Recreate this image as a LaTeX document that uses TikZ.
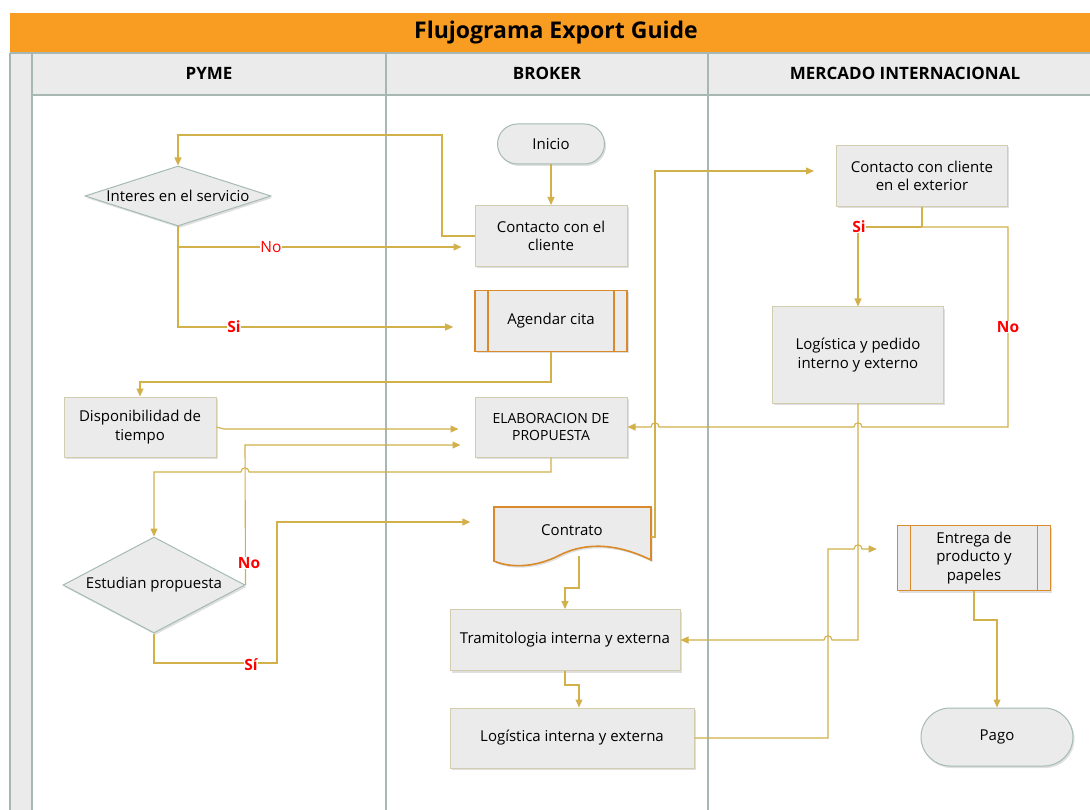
\documentclass[tikz,border=0pt]{standalone}
\usepackage{fontspec}
\setmainfont{Open Sans}
\usetikzlibrary{shapes.geometric,arrows.meta,shadows,calc}
\definecolor{ttl}{HTML}{F89C22}
\definecolor{hdr}{HTML}{EBEBEB}
\definecolor{lane}{HTML}{A7B8B2}
\definecolor{nfill}{HTML}{EBEBEB}
\definecolor{nline}{HTML}{D4CCAE}
\definecolor{tline}{HTML}{A5BBB3}
\definecolor{oline}{HTML}{D98A2B}
\definecolor{gold}{HTML}{D2B04A}
\tikzset{
  txt/.style={font=\fontsize{15}{18.5}\selectfont, align=center},
  shd/.style={drop shadow={opacity=0.25, shadow xshift=1.5pt, shadow yshift=-2pt}},
  procbox/.style={txt, draw=nline, line width=1pt, fill=nfill, shd},
  termbox/.style={txt, draw=tline, line width=1pt, fill=nfill, shd},
  decbox/.style={diamond, draw=tline, line width=1pt, fill=nfill, shd, inner sep=0pt},
  subbox/.style={txt, draw=oline, line width=1.6pt, fill=nfill, shd,
    path picture={\draw[oline, line width=1.6pt]
      ([xshift=13pt]path picture bounding box.north west) -- ([xshift=13pt]path picture bounding box.south west)
      ([xshift=-13pt]path picture bounding box.north east) -- ([xshift=-13pt]path picture bounding box.south east);}},
  conn/.style={draw=gold, line width=1.1pt, -{Triangle[length=8pt,width=7pt]}},
  plain/.style={draw=gold, line width=1.1pt},
  lbl/.style={text=red, fill=white, inner sep=0.5pt, font=\fontsize{15.5}{17}\selectfont},
  blbl/.style={lbl, font=\fontsize{15.5}{17}\selectfont\bfseries},
  hdrtxt/.style={font=\fontsize{17}{19}\selectfont\bfseries},
}
\begin{document}
\begin{tikzpicture}[x=1pt,y=-1pt]
\useasboundingbox (0,0) rectangle (1090,810);
\fill[white] (0,0) rectangle (1090,810);
% title bar
\fill[ttl] (10,13) rectangle (1090,53);
\node[font=\fontsize{23}{26}\selectfont\bfseries] (title) at (556,33) {Flujograma Export Guide};
% header and lanes
\fill[hdr] (10,53) rectangle (1090,95);
\fill[hdr] (10,53) rectangle (32,810);
\draw[lane, line width=1.2pt] (10,53) -- (1090,53);
\draw[lane, line width=1.2pt] (32,95) -- (1090,95);
\draw[lane, line width=1.2pt] (10,53) -- (10,810);
\draw[lane, line width=1.2pt] (32,53) -- (32,810);
\draw[lane, line width=1.2pt] (386,53) -- (386,810);
\draw[lane, line width=1.2pt] (708,53) -- (708,810);
\node[hdrtxt] (h1) at (209,73) {PYME};
\node[hdrtxt] (h2) at (547,73) {BROKER};
\node[hdrtxt] (h3) at (905,73) {MERCADO INTERNACIONAL};

% nodes
\node[termbox, rounded corners=20pt, minimum width=107pt, minimum height=40pt] (inicio) at (551,144) {Inicio};
\node[procbox, minimum width=152pt, minimum height=61pt, font=\fontsize{15}{17.5}\selectfont] (contacto) at (551,236) {Contacto con el\\cliente};
\node[subbox, minimum width=152pt, minimum height=61pt] (agendar) at (551,321) {Agendar cita};
\node[decbox, minimum width=186pt, minimum height=60pt] (interes) at (178,196) {};
\node[txt] (interesT) at (178,196) {Interes en el servicio};
\node[procbox, minimum width=152pt, minimum height=60pt] (dispo) at (140,427) {Disponibilidad de\\tiempo};
\node[procbox, minimum width=152pt, minimum height=60pt, font=\fontsize{14}{17.5}\selectfont] (elab) at (551,427) {ELABORACION DE\\PROPUESTA};
\node[decbox, minimum width=182pt, minimum height=96pt] (estudian) at (154,585) {};
\node[txt] (estudianT) at (154,585) {Estudian propuesta};
% Contrato document shape
\path[fill=nfill, draw=oline, line width=1.6pt, shd] (494,507) -- (651,507) -- (651,560)
  .. controls (610,540) and (580,545) .. (560,555) .. controls (535,568) and (510,568) .. (494,561) -- cycle;
\node[txt, minimum width=157pt, minimum height=54pt] (contrato) at (572,534) {};
\node[txt] (contratoT) at (572,530) {Contrato};
\node[procbox, minimum width=230pt, minimum height=61pt] (tram) at (565,640) {Tramitologia interna y externa};
\node[procbox, minimum width=244pt, minimum height=60pt] (linterna) at (572,738) {Logística interna y externa};
\node[procbox, minimum width=171pt, minimum height=61pt] (cext) at (922,176) {Contacto con cliente\\en el exterior};
\node[procbox, minimum width=171pt, minimum height=96pt] (lped) at (858,355) {Logística y pedido\\interno y externo};
\node[subbox, minimum width=153pt, minimum height=65pt] (entrega) at (974,558) {Entrega de\\producto y\\papeles};
\node[termbox, rounded corners=29pt, minimum width=152pt, minimum height=58pt] (pago) at (997,737) {Pago};

% connectors
\draw[conn] (inicio.south) -- (contacto.north);
\draw[conn] (contacto.west) -| (442,135) -| (interes.north);
\draw[conn, shorten >=13pt] (interes.south) |- (contacto.west |- 0,247);
\draw[conn, shorten >=21pt] (178,247) |- (agendar.west |- 0,327);
\node[lbl] (lNo1) at (271,247) {No};
\node[blbl] (lSi1) at (234,327) {Si};
\draw[conn] (agendar.south) |- (140,382) -- (dispo.north);
\draw[conn, shorten >=16pt] (dispo.east) -- (224,429) -- (elab.west |- 0,429);
\draw[conn] (elab.south) -- (551,472) -- (249,472) .. controls (249,466.5) and (241,466.5) .. (241,472) -- (154,472) -- (estudian.north);
\draw[conn, shorten >=14pt] (estudian.east) -- (245,445) -- (elab.west |- 0,445);
\node[blbl] (lNo2) at (249,563) {No};
\draw[conn, shorten >=23pt] (estudian.south) -- (154,663) -- (277,663) -- (277,522) -- (contrato.west |- 0,522);
\node[blbl] (lSi2) at (251,665) {Sí};
\draw[conn, shorten >=22pt] (651,537) -- (655,537) -- (655,171) -- (cext.west |- 0,171);
\draw[plain] (cext.south) -- (922,227);
\draw[conn] (922,227) -| (lped.north);
\node[blbl] (lSi3) at (859,227) {Si};
\draw[conn] (922,227) -- (1008,227) -- (1008,427) -- (862,427) .. controls (862,421.5) and (854,421.5) .. (854,427) -- (659,427) .. controls (659,421.5) and (651,421.5) .. (651,427) -- (elab.east);
\node[blbl] (lNo3) at (1008,327) {No};
\draw[conn] (lped.south) -- (858,640) -- (832,640) .. controls (832,634.5) and (824,634.5) .. (824,640) -- (tram.east);
\draw[conn] (579,556) -- (579,588) -- (565,588) -- (tram.north);
\draw[conn] (tram.south) -- (565,685) -- (579,685) -- (linterna.north -| 579,0);
\draw[conn, shorten >=20pt] (linterna.east) -- (828,738) -- (828,549) -- (854,549) .. controls (854,543.5) and (862,543.5) .. (862,549) -- (entrega.west |- 0,549);
\draw[conn] (entrega.south) -- (974,620) -- (997,620) -- (pago.north);
\end{tikzpicture}
\end{document}
